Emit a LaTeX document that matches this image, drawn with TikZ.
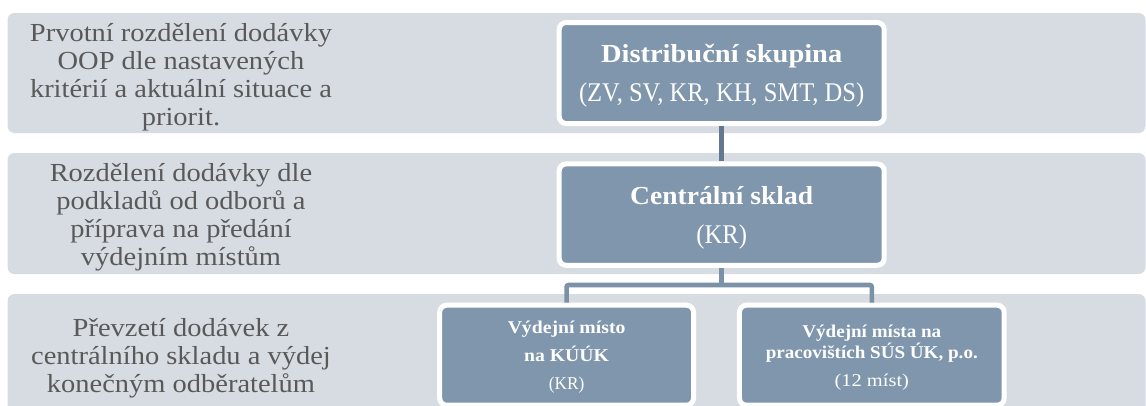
\documentclass[tikz,border=0pt]{standalone}
\usepackage{fontspec}
\setmainfont[FakeStretch=1.06]{Liberation Serif}
\newfontfamily\fsa[FakeStretch=1.095]{Liberation Serif}
\newfontfamily\fsb[FakeStretch=0.91]{Liberation Serif}
\newfontfamily\fsc[FakeStretch=1.06]{Liberation Serif}
\newfontfamily\fsd[FakeStretch=0.96]{Liberation Serif}
\newfontfamily\fse[FakeStretch=1.136]{Liberation Serif}
\definecolor{bandc}{HTML}{D7DCE3}
\definecolor{boxc}{HTML}{7F96AC}
\definecolor{linkc}{HTML}{7A91A7}
\definecolor{linkd}{HTML}{62788E}
\definecolor{txtc}{HTML}{595959}
\newcommand{\topgap}[1]{\rule{0pt}{#1pt}}
\tikzset{
  bandbox/.style={fill=bandc,rounded corners=7pt},
  sidetext/.style={text=txtc,align=center,font=\fsa\fontsize{26}{28}\selectfont,inner sep=0pt},
  orgbox/.style={draw=white,line width=5pt,fill=boxc,rounded corners=7pt,text=white,align=center,inner sep=0pt},
  link/.style={line width=4.6pt}
}
\begin{document}
\begin{tikzpicture}[x=1pt,y=-1pt]
\useasboundingbox (0,0) rectangle (1146,405);
\clip (0,0) rectangle (1146,405);
\fill[bandbox] (7.5,13) rectangle (1145.5,133);
\fill[bandbox] (7.5,153) rectangle (1145.5,274);
\fill[bandbox] (7.5,294) rectangle (1145.5,420);
\node[sidetext] (t1) at (181,77) {Prvotní rozdělení dodávky\\OOP dle nastavených\\kritérií a aktuální situace a\\priorit.};
\node[sidetext] (t2) at (181,217) {Rozdělení dodávky dle\\podkladů od odborů a\\příprava na předání\\výdejním místům};
\node[sidetext] (t3) at (181,358) {Převzetí dodávek z\\centrálního skladu a výdej\\konečným odběratelům};
\node[orgbox,minimum width=325pt,minimum height=101pt,font=\fontsize{26}{39}\selectfont] (b1) at (721.7,73) {\topgap{24}{\fsa\bfseries Distribuční skupina}\\{\fsb\fontsize{27}{39}\selectfont (ZV, SV, KR, KH, SMT, DS)}};
\node[orgbox,minimum width=325pt,minimum height=101.4pt,font=\fontsize{26}{39}\selectfont] (b2) at (721.7,214.6) {\topgap{24}{\fsc\bfseries Centrální sklad}\\{\fsb\fontsize{27}{39}\selectfont (KR)}};
\node[orgbox,minimum width=253.8pt,minimum height=100pt,font=\fontsize{18}{28}\selectfont] (b3) at (566.6,355.2) {\topgap{17}{\fsa\bfseries Výdejní místo}\\{\fsa\bfseries na KÚÚK}\\{\fsd (KR)}};
\node[orgbox,minimum width=264.7pt,minimum height=100pt,font=\fontsize{18}{20.5}\selectfont] (b4) at (871.8,355.2) {\topgap{18}{\fsc\bfseries Výdejní místa na}\\{\fsc\bfseries pracovištích SÚS ÚK, p.o.}\\[8pt]{\fse (12 míst)}};
\coordinate (hub) at (721.7,285);
\draw[link,draw=linkd] (b1.south) -- (b2.north);
\draw[link,draw=linkc] (b2.south) -- (hub);
\draw[link,draw=linkc,rounded corners=2pt] (b3.north) |- (hub) -| (b4.north);
\end{tikzpicture}
\end{document}
